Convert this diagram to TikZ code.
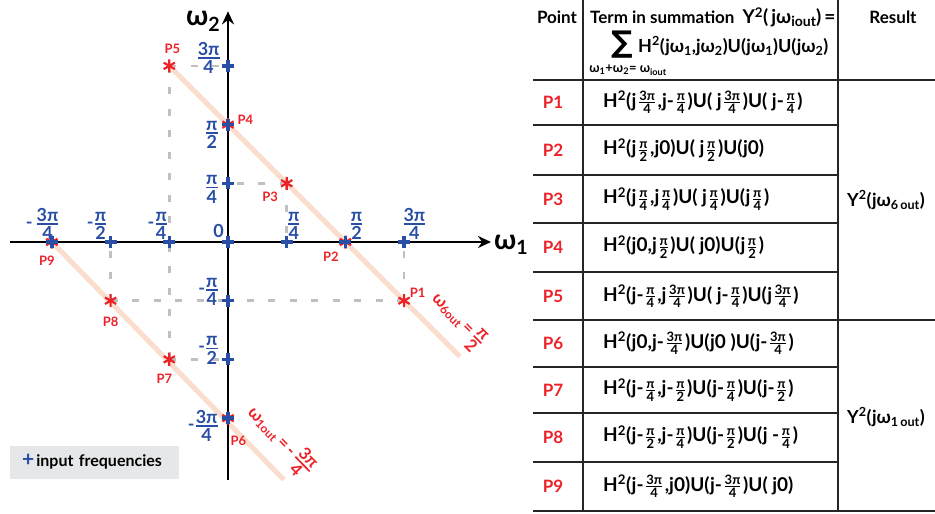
\documentclass[tikz,border=0pt]{standalone}
\usepackage{amsmath}
\usepackage{fontspec}
\setmainfont{Lato}
\newfontfamily\sumfont{DejaVu Sans}
\usetikzlibrary{positioning,arrows.meta,calc}
\definecolor{frBlue}{RGB}{40,78,165}
\definecolor{frRed}{RGB}{236,34,40}
\definecolor{frPeach}{RGB}{251,221,206}
\definecolor{frGray}{RGB}{192,192,192}
\definecolor{frBox}{RGB}{230,231,232}
\newcommand{\up}[1]{\textsuperscript{#1}}
\newcommand{\dn}[1]{\textsubscript{#1}}
\newcommand{\hdn}[1]{\raisebox{-0.3ex}{\fontsize{14}{14}\selectfont#1}}
\newcommand{\tfr}[2]{$\genfrac{}{}{1.7pt}{}{\mbox{#1}}{\mbox{#2}}$}
\newcommand{\sfr}[2]{\hspace{1.5pt}$\genfrac{}{}{0.8pt}{}{\mbox{\fontsize{13}{13}\selectfont#1}}{\mbox{\fontsize{13}{13}\selectfont#2}}$\hspace{1.5pt}}
\tikzset{
    base/.style={font=\bfseries, inner sep=0pt},
    ticklab/.style={base, text=frBlue, font=\fontsize{18}{18}\selectfont\bfseries},
    ptlab/.style={base, text=frRed, font=\fontsize{13}{13}\selectfont\bfseries},
    axlab/.style={base, font=\fontsize{28}{28}\selectfont\bfseries},
    linelab/.style={base, text=frRed, font=\fontsize{17}{17}\selectfont\bfseries},
    axis/.style={line width=2.8pt, -{Stealth[length=13pt,width=12pt]}},
    plusmark/.style={frBlue, line width=3.4pt},
    starmark/.style={frRed, line width=2.2pt},
    wline/.style={frPeach, line width=5pt},
    proj/.style={frGray, line width=2.5pt, dash pattern=on 7pt off 14.5pt},
    legbox/.style={base, fill=frBox, minimum height=33pt, text width=145pt,
                   inner xsep=12pt, align=left, font=\fontsize{16}{16}\selectfont\bfseries},
    tabline/.style={line width=1.2pt, black!85},
    rowlab/.style={base, text=frRed, font=\fontsize{17}{17}\selectfont\bfseries},
    term/.style={base, anchor=west, font=\fontsize{19}{19}\selectfont\bfseries},
    head/.style={base, font=\fontsize{17}{17}\selectfont\bfseries}
}

\begin{document}
\begin{tikzpicture}[x=1pt, y=-1pt]
  \useasboundingbox (0,0) rectangle (935,514);

  % frequency plane
  \begin{scope}[shift={(228,242)}, x=58.7pt, y=58.7pt]
    \foreach \k/\n in {-3/m3,-2/m2,-1/m1,0/0,1/1,2/2,3/3} {
      \coordinate (x\n) at (\k,0);
      \coordinate (y\n) at (0,\k);
    }
    \coordinate (p1) at (3,-1);
    \coordinate (p2) at (2,0);
    \coordinate (p3) at (1,1);
    \coordinate (p4) at (0,2);
    \coordinate (p5) at (-1,3);
    \coordinate (p6) at (0,-3);
    \coordinate (p7) at (-1,-2);
    \coordinate (p8) at (-2,-1);
    \coordinate (p9) at (-3,0);
    \coordinate (w6end) at (3.95,-1.95);
    \coordinate (w1end) at (0.95,-4.05);
    \coordinate (xl) at (-3.71,0);
    \coordinate (xr) at (4.48,0);
    \coordinate (yb) at (0,-4.05);
    \coordinate (yt) at (0,3.93);

    % projections
    \draw[proj] (p5) -- (y3) (p5) -- (xm1);
    \draw[proj] (p3) -- (y1) (p3) -- (x1);
    \draw[proj] (p1) -- (ym1) (p1) -- (x3);
    \draw[proj] (p8) -- (ym1) (p8) -- (xm2);
    \draw[proj] (p7) -- (ym2) (p7) -- (xm1);

    % lines of constant output frequency
    \draw[wline] (p5) -- (w6end)
      node[linelab, pos=0.935, sloped, above=7pt] (w6lab) {ω\dn{6out}\,=\,\tfr{π}{2}};
    \draw[wline] (p9) -- (w1end)
      node[linelab, pos=0.91, sloped, above=7pt] (w1lab) {ω\dn{1out}\,=\,-\,\tfr{3π}{4}};

    \draw[axis] (xl) -- (xr);
    \draw[axis] (yb) -- (yt);
    \node[axlab, anchor=base west] (w1) at ([xshift=3pt,yshift=-7pt]xr) {ω\dn{1}};
    \node[axlab, anchor=base west] (w2) at ([xshift=-42pt,yshift=-14pt]yt) {ω\dn{2}};

    \foreach \p in {p1,p2,p3,p4,p5,p6,p7,p8,p9}
      \draw[starmark] (\p) +(90:6.5pt) -- +(270:6.5pt) +(30:6.5pt) -- +(210:6.5pt) +(150:6.5pt) -- +(330:6.5pt);
    \foreach \t in {xm3,xm2,xm1,x0,x1,x2,x3,ym3,ym2,ym1,y1,y2,y3}
      \draw[plusmark] (\t) +(-6pt,0) -- +(6pt,0) +(0,-6pt) -- +(0,6pt);

    % tick labels
    \node[ticklab, anchor=south east] (lxm3) at ([xshift=8pt,yshift=2pt]xm3) {-\,\tfr{3π}{4}};
    \node[ticklab, anchor=south east] (lxm2) at ([xshift=-3pt,yshift=2pt]xm2) {-\tfr{π}{2}};
    \node[ticklab, anchor=south east] (lxm1) at ([xshift=-1pt,yshift=2pt]xm1) {-\tfr{π}{4}};
    \node[ticklab, anchor=south east] (lx0) at ([xshift=-4pt,yshift=4pt]x0) {0};
    \node[ticklab, anchor=south west] (lx1) at ([xshift=0pt,yshift=2pt]x1) {\tfr{π}{4}};
    \node[ticklab, anchor=south west] (lx2) at ([xshift=4pt,yshift=2pt]x2) {\tfr{π}{2}};
    \node[ticklab, anchor=south west] (lx3) at ([xshift=-2pt,yshift=2pt]x3) {\tfr{3π}{4}};
    \node[ticklab, anchor=east] (ly3) at ([xshift=-7pt,yshift=8pt]y3) {\tfr{3π}{4}};
    \node[ticklab, anchor=east] (ly2) at ([xshift=-9pt,yshift=-10pt]y2) {\tfr{π}{2}};
    \node[ticklab, anchor=east] (ly1) at ([xshift=-9pt,yshift=-6pt]y1) {\tfr{π}{4}};
    \node[ticklab, anchor=east] (lym1) at ([xshift=-9pt,yshift=9pt]ym1) {-\tfr{π}{4}};
    \node[ticklab, anchor=east] (lym2) at ([xshift=-9pt,yshift=9pt]ym2) {-\tfr{π}{2}};
    \node[ticklab, anchor=east] (lym3) at ([xshift=-9pt,yshift=-8pt]ym3) {-\tfr{3π}{4}};

    % point labels
    \node[ptlab, above right=3.5pt and 5.5pt of p1] (lp1) {P1};
    \node[ptlab, below left=9.5pt and 6.5pt of p2] (lp2) {P2};
    \node[ptlab, below left=8.5pt and 8.5pt of p3] (lp3) {P3};
    \node[ptlab, above right=-0.5pt and 9.5pt of p4] (lp4) {P4};
    \node[ptlab, above=12.5pt of p5, xshift=3pt] (lp5) {P5};
    \node[ptlab, below right=17.5pt and 2.5pt of p6] (lp6) {P6};
    \node[ptlab, below=14.5pt of p7, xshift=-5pt] (lp7) {P7};
    \node[ptlab, below=16.5pt of p8] (lp8) {P8};
    \node[ptlab, below=13.5pt of p9, xshift=-5pt] (lp9) {P9};
  \end{scope}

  \node[legbox, anchor=west] (legend) at (10,462)
    {\textcolor{frBlue}{\fontsize{21}{16}\selectfont+}\hspace{2pt}input frequencies};

  % table
  \draw[tabline] (583,0) -- (583,511) (838,0) -- (838,511);
  \foreach \yy in {125,175,223,272,367,413,462}
    \draw[tabline] (533,\yy) -- (838,\yy);
  \foreach \yy in {80,320,511}
    \draw[tabline] (533,\yy) -- (935,\yy);

  \node[head] (hpoint) at (557,17) {Point};
  \node[head, anchor=west] (hterm) at (590,17)
    {Term in summation\hspace{8pt}{\fontsize{19}{19}\selectfont Y\up{2}(\,jω\hdn{iout})\,=}};
  \node[base, font=\fontsize{30}{30}\selectfont\sumfont\bfseries] (hsum) at (622,45) {∑};
  \node[head, anchor=west, font=\fontsize{18}{18}\selectfont\bfseries] (hprod) at (638,46)
    {H\up{2}(jω\dn{1},jω\dn{2})U(jω\dn{1})U(jω\dn{2})};
  \node[base, font=\fontsize{13}{13}\selectfont\bfseries] (hsub) at (628,70) {ω\dn{1}+ω\dn{2}= ω\dn{iout}};
  \node[head] (hres) at (893,17) {Result};

  \node[rowlab] (lab1) at (553,102) {P1};
  \node[rowlab] (lab2) at (553,150) {P2};
  \node[rowlab] (lab3) at (553,199) {P3};
  \node[rowlab] (lab4) at (553,247) {P4};
  \node[rowlab] (lab5) at (553,296) {P5};
  \node[rowlab] (lab6) at (553,343) {P6};
  \node[rowlab] (lab7) at (553,390) {P7};
  \node[rowlab] (lab8) at (553,437) {P8};
  \node[rowlab] (lab9) at (553,486) {P9};

  \node[term] (term1) at (603,102) {H\up{2}(j\sfr{3π}{4},j-\sfr{π}{4})U( j\sfr{3π}{4})U( j-\sfr{π}{4})};
  \node[term] (term2) at (603,150) {H\up{2}(j\sfr{π}{2},j0)U( j\sfr{π}{2})U(j0)};
  \node[term] (term3) at (603,199) {H\up{2}(j\sfr{π}{4},j\sfr{π}{4})U( j\sfr{π}{4})U(j\sfr{π}{4})};
  \node[term] (term4) at (603,247) {H\up{2}(j0,j\sfr{π}{2})U( j0)U(j\sfr{π}{2})};
  \node[term] (term5) at (603,296) {H\up{2}(j-\sfr{π}{4},j\sfr{3π}{4})U( j-\sfr{π}{4})U(j\sfr{3π}{4})};
  \node[term] (term6) at (603,343) {H\up{2}(j0,j-\sfr{3π}{4})U(j0 )U(j-\sfr{3π}{4})};
  \node[term] (term7) at (603,390) {H\up{2}(j-\sfr{π}{4},j-\sfr{π}{2})U(j-\sfr{π}{4})U(j-\sfr{π}{2})};
  \node[term] (term8) at (603,437) {H\up{2}(j-\sfr{π}{2},j-\sfr{π}{4})U(j-\sfr{π}{2})U(j -\sfr{π}{4})};
  \node[term] (term9) at (603,486) {H\up{2}(j-\sfr{3π}{4},j0)U(j-\sfr{3π}{4})U( j0)};

  \node[term, font=\fontsize{18}{18}\selectfont\bfseries] (res6) at (847,200) {Y\up{2}(jω\dn{6\,out})};
  \node[term, font=\fontsize{18}{18}\selectfont\bfseries] (res1) at (847,417) {Y\up{2}(jω\dn{1\,out})};
\end{tikzpicture}
\end{document}
